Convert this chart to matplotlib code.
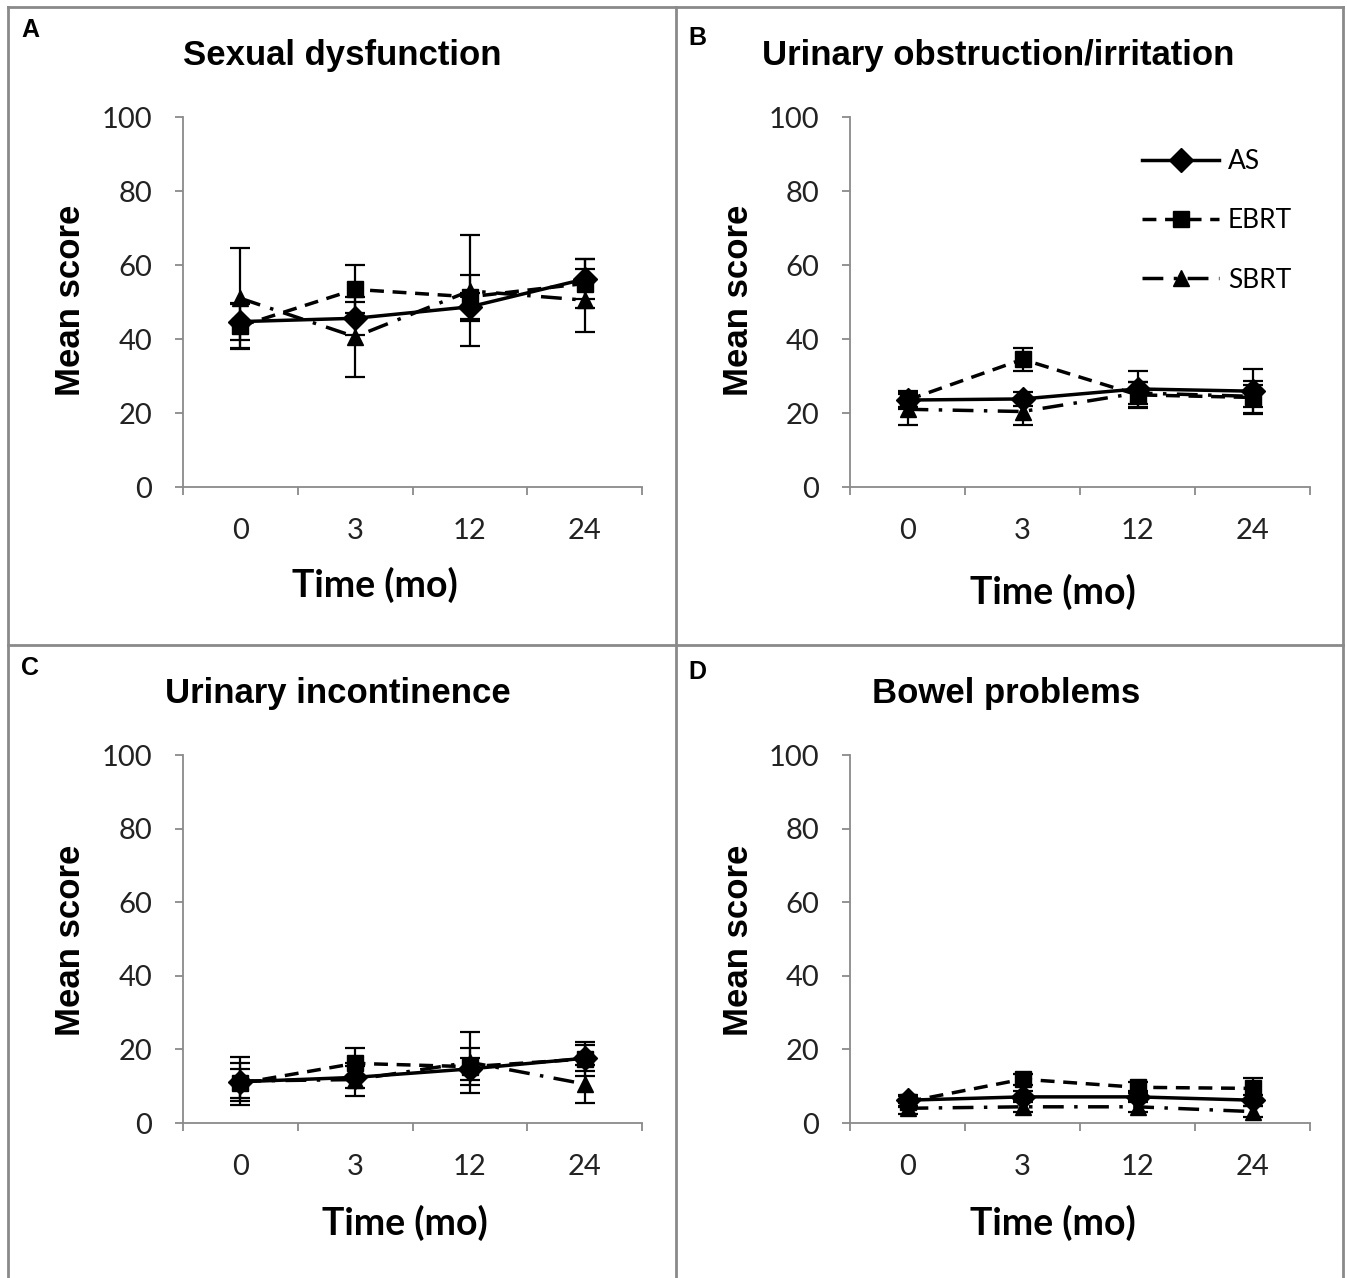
import numpy as np
import matplotlib
matplotlib.use("Agg")
import matplotlib.pyplot as plt
from matplotlib.lines import Line2D

W, H = 1347, 1278

time_labels = ['0', '3', '12', '24']
series_names = ['AS', 'EBRT', 'SBRT']

titles = ['Sexual dysfunction', 'Urinary obstruction/irritation',
          'Urinary incontinence', 'Bowel problems']
letters = ['A', 'B', 'C', 'D']

# mean scores per panel (AS, EBRT, SBRT)
as_a = [44.7, 45.6, 48.7, 56.2]
ebrt_a = [43.5, 53.4, 51.4, 55.0]
sbrt_a = [51.0, 40.6, 53.0, 50.5]
as_a_err = [5.0, 4.5, 3.7, 5.3]
ebrt_a_err = [6.0, 6.5, 6.0, 6.5]
sbrt_a_err = [13.7, 10.8, 15.0, 8.5]

as_b = [23.5, 23.8, 26.5, 25.9]
ebrt_b = [23.5, 34.5, 24.9, 24.2]
sbrt_b = [21.0, 20.4, 25.4, 24.5]
as_b_err = [2.0, 2.0, 4.9, 5.9]
ebrt_b_err = [2.5, 3.1, 3.6, 4.5]
sbrt_b_err = [4.2, 3.6, 3.0, 3.0]

as_c = [11.2, 12.4, 14.7, 17.6]
ebrt_c = [10.8, 16.2, 15.3, 17.4]
sbrt_c = [11.4, 11.8, 16.5, 10.6]
as_c_err = [5.2, 3.0, 3.0, 3.5]
ebrt_c_err = [4.0, 4.3, 5.0, 4.5]
sbrt_c_err = [6.6, 4.5, 8.3, 5.2]

as_d = [6.2, 7.1, 7.1, 6.2]
ebrt_d = [5.8, 11.9, 9.7, 9.4]
sbrt_d = [4.0, 4.4, 4.4, 3.1]
as_d_err = [1.5, 1.5, 1.5, 1.5]
ebrt_d_err = [1.5, 1.5, 1.5, 2.9]
sbrt_d_err = [1.5, 1.5, 1.5, 1.5]

panels = [
    (as_a, ebrt_a, sbrt_a, as_a_err, ebrt_a_err, sbrt_a_err),
    (as_b, ebrt_b, sbrt_b, as_b_err, ebrt_b_err, sbrt_b_err),
    (as_c, ebrt_c, sbrt_c, as_c_err, ebrt_c_err, sbrt_c_err),
    (as_d, ebrt_d, sbrt_d, as_d_err, ebrt_d_err, sbrt_d_err),
]

# pixel geometry of each axes: left, top(y=100), right, bottom(y=0)
ax_px = [(183, 117, 642, 487), (850, 117, 1310, 487),
         (183, 755, 642, 1123), (850, 755, 1310, 1123)]
title_px = [(342, 55), (998, 55), (338, 693), (1006, 693)]
letter_px = [(30, 30), (697, 38), (30, 668), (697, 672)]
ylab_px = [(70, 300), (738, 300), (70, 940), (738, 940)]
xlab_px = [(375, 585), (1053, 592), (405, 1223), (1053, 1223)]

styles = {
    'AS': dict(ls='-', marker='D', ms=12),
    'EBRT': dict(ls=(0, (4, 2.5)), marker='s', ms=12),
    'SBRT': dict(ls=(0, (6, 3, 1, 3)), marker='^', ms=12),
}

fig = plt.figure(figsize=(W / 100, H / 100), dpi=100)

def fx(px):
    return px / W

def fy(py):
    return 1 - py / H

tick_font = 'Lato'
head_font = 'Liberation Sans'
gray = '#8a8a8a'

x = np.arange(len(time_labels))

for i, (vals_as, vals_eb, vals_sb, e_as, e_eb, e_sb) in enumerate(panels):
    l, t, r, b = ax_px[i]
    ax = fig.add_axes([fx(l), fy(b), fx(r) - fx(l), fy(t) - fy(b)])
    data = [(vals_sb, e_sb, 'SBRT'), (vals_eb, e_eb, 'EBRT'), (vals_as, e_as, 'AS')]
    handles = {}
    for z, (v, e, name) in enumerate(data):
        st = styles[name]
        ax.errorbar(x, v, yerr=e, fmt='none', ecolor='black', elinewidth=1.6,
                    capsize=7, capthick=1.6, zorder=2 + z)
        h, = ax.plot(x, v, color='black', lw=2.5, linestyle=st['ls'],
                     marker=st['marker'], ms=st['ms'], mfc='black', mec='black',
                     zorder=3 + z, label=name)
        handles[name] = h
    ax.set_xlim(-0.5, 3.5)
    ax.set_ylim(0, 100)
    ax.set_yticks(range(0, 101, 20))
    ax.set_xticks(np.arange(-0.5, 3.6, 1.0))
    ax.set_xticklabels([])
    ax.set_xticks(x, minor=True)
    ax.set_xticklabels(time_labels, minor=True)
    ax.tick_params(axis='x', which='minor', length=0, pad=22)
    ax.tick_params(axis='x', which='major', length=6, color=gray, width=1.3)
    ax.tick_params(axis='y', length=6, color=gray, width=1.3, pad=16)
    for lab in ax.get_xticklabels(minor=True) + ax.get_yticklabels():
        lab.set_fontfamily(tick_font)
        lab.set_fontsize(21)
        lab.set_color('#222222')
    for s in ['top', 'right']:
        ax.spines[s].set_visible(False)
    for s in ['left', 'bottom']:
        ax.spines[s].set_color(gray)
        ax.spines[s].set_linewidth(1.3)

    if i == 1:
        ax.legend([handles[n] for n in series_names], series_names,
                  loc='upper right', bbox_to_anchor=(1.013, 0.978),
                  frameon=False, handlelength=2.9, handletextpad=0.35,
                  labelspacing=1.3, prop=dict(family=tick_font, size=19))

    tx, ty = title_px[i]
    fig.text(fx(tx), fy(ty), titles[i], ha='center', va='center',
             fontfamily=head_font, fontweight='bold', fontsize=25)
    lx, ly = letter_px[i]
    fig.text(fx(lx), fy(ly), letters[i], ha='center', va='center',
             fontfamily=head_font, fontweight='bold', fontsize=18)
    yx, yy = ylab_px[i]
    fig.text(fx(yx), fy(yy), 'Mean score', ha='center', va='center',
             rotation=90, fontfamily=head_font, fontweight='bold', fontsize=25)
    xx, xy = xlab_px[i]
    fig.text(fx(xx), fy(xy), 'Time (mo)', ha='center', va='center',
             fontfamily=tick_font, fontweight='bold', fontsize=27)

# panel frame lines
frame = [((8, 7), (1343, 7)), ((8, 7), (8, 1278)), ((1343, 7), (1343, 1278)),
         ((676, 7), (676, 1278)), ((8, 645), (1343, 645))]
for (x0, y0), (x1, y1) in frame:
    fig.add_artist(Line2D([fx(x0), fx(x1)], [fy(y0), fy(y1)], color=gray, lw=2))

fig.savefig('out.png', dpi=100)
